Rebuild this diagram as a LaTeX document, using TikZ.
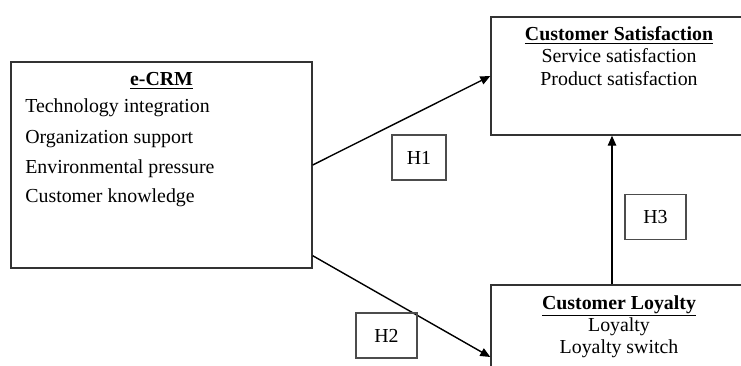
\documentclass[tikz,border=0pt]{standalone}
\usepackage{fontspec}
\setmainfont{Liberation Serif}
\usetikzlibrary{arrows.meta,positioning}

\tikzset{
  box/.style={draw=black!80, line width=0.8pt, inner sep=0pt},
  hyp/.style={draw=black!70, line width=0.8pt, minimum width=1.22cm, minimum height=0.9cm, inner sep=0pt, font=\fontsize{11.3}{13}\selectfont},
  head/.style={font=\fontsize{11.3}{13}\selectfont\bfseries, inner sep=0pt},
  item/.style={font=\fontsize{11.3}{13}\selectfont, inner sep=0pt},
  link/.style={line width=0.8pt, -{Triangle[length=2mm,width=1.7mm]}}
}

\begin{document}
\begin{tikzpicture}
  % frame of the cut-out (boxes run past its right and bottom edges)
  \useasboundingbox (0,0) rectangle (14.82,7.30);
  \clip (0,0) rectangle (14.82,7.30);

  % e-CRM box
  \node[box, minimum width=6.02cm, minimum height=4.12cm] (ecrm) at (3.23,4.00) {};
  \node[head, anchor=base] (ecrmT) at (3.23,5.58) {\underline{e-CRM}};
  \foreach \y/\t [count=\i] in {5.04/Technology integration, 4.44/Organization support,
      3.84/Environmental pressure, 3.25/Customer knowledge}
    \node[item, anchor=base west] (ecrm\i) at (0.50,\y) {\t};

  % Customer Satisfaction box
  \node[box, minimum width=5.12cm, minimum height=2.36cm] (cs) at (12.38,5.78) {};
  \node[head, anchor=base] (csT) at (12.38,6.48) {\underline{Customer Satisfaction}};
  \node[item, anchor=base] (cs1) at (12.38,6.04) {Service satisfaction};
  \node[item, anchor=base] (cs2) at (12.38,5.58) {Product satisfaction};

  % Customer Loyalty box
  \node[box, minimum width=5.12cm, minimum height=2.88cm] (cl) at (12.38,0.16) {};
  \node[head, anchor=base] (clT) at (12.38,1.12) {\underline{Customer Loyalty}};
  \node[item, anchor=base] (cl1) at (12.38,0.68) {Loyalty};
  \node[item, anchor=base] (cl2) at (12.38,0.24) {Loyalty switch};

  % Arrows
  \draw[link] (ecrm.east) -- (cs.west);
  \draw[link] ([yshift=2.6mm]ecrm.south east) -- (cl.west);
  \draw[link] ([xshift=-1.4mm]cl.north) -- ([xshift=-1.4mm]cs.south);

  % Hypotheses
  \node[hyp, minimum width=1.08cm] (h1) at (8.38,4.15) {H1};
  \node[hyp] (h2) at (7.73,0.59) {H2};
  \node[hyp] (h3) at (13.11,2.96) {H3};
\end{tikzpicture}
\end{document}
